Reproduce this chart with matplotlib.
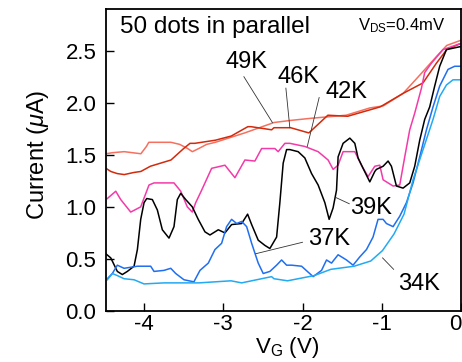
import matplotlib
matplotlib.use("Agg")
import matplotlib.pyplot as plt

plt.rcParams['font.family'] = ['Liberation Sans', 'DejaVu Sans']
plt.rcParams['mathtext.fontset'] = 'custom'
plt.rcParams['mathtext.rm'] = 'Liberation Sans'
plt.rcParams['mathtext.it'] = 'Liberation Sans:italic'

# gate voltage (V) and current (uA)
vg_49 = [-4.48, -4.40, -4.25, -4.04, -3.97, -3.94, -3.80, -3.66, -3.55, -3.45, -3.39, -3.31,
         -3.21, -3.10, -2.73, -2.36, -2.15, -1.90, -1.45, -1.15, -0.98, -0.73, -0.55, -0.29,
         -0.18, 0.0]
i_49 = [1.51, 1.52, 1.53, 1.51, 1.58, 1.62, 1.62, 1.62, 1.60, 1.56, 1.53, 1.56,
        1.60, 1.62, 1.71, 1.81, 1.83, 1.85, 1.88, 1.95, 1.97, 2.09, 2.24, 2.46,
        2.55, 2.60]

vg_46 = [-4.48, -4.42, -4.34, -4.25, -4.13, -4.04, -3.92, -3.66, -3.50, -3.42, -3.36, -3.10,
         -2.90, -2.69, -2.65, -2.39, -2.36, -2.15, -1.92, -1.68, -1.43, -1.02, -0.73, -0.48,
         -0.31, -0.18, 0.0]
i_46 = [1.37, 1.34, 1.32, 1.31, 1.33, 1.34, 1.39, 1.45, 1.56, 1.61, 1.61, 1.64,
        1.68, 1.77, 1.77, 1.74, 1.76, 1.76, 1.71, 1.88, 1.87, 1.96, 2.09, 2.19,
        2.38, 2.51, 2.57]

vg_42 = [-4.463, -4.357, -4.294, -4.168, -4.042, -3.937, -3.874, -3.622, -3.537, -3.454,
         -3.391, -3.348, -3.273, -3.147, -2.979, -2.853, -2.727, -2.601, -2.516, -2.349,
         -2.307, -2.223, -2.160, -1.971, -1.803, -1.677, -1.614, -1.551, -1.488, -1.340,
         -1.256, -1.173, -1.088, -1.025, -0.983, -0.857, -0.773, -0.710, -0.647, -0.584,
         -0.499, -0.458, -0.373, -0.227, 0.0]
i_42 = [1.08, 1.15, 1.07, 0.95, 1.00, 1.21, 1.23, 1.23, 1.15, 1.00,
        0.95, 1.04, 1.16, 1.37, 1.40, 1.28, 1.45, 1.44, 1.56, 1.56,
        1.53, 1.61, 1.61, 1.58, 1.53, 1.45, 1.36, 1.40, 1.53, 1.53,
        1.40, 1.29, 1.39, 1.40, 1.26, 1.20, 1.21, 1.48, 1.74, 1.90,
        2.14, 2.29, 2.38, 2.51, 2.57]

vg_39 = [-4.483, -4.420, -4.337, -4.274, -4.211, -4.126, -4.084, -4.042, -4.0, -3.966,
         -3.895, -3.832, -3.769, -3.685, -3.622, -3.580, -3.537, -3.474, -3.391, -3.316,
         -3.231, -3.168, -3.063, -2.979, -2.895, -2.768, -2.693, -2.642, -2.559, -2.475,
         -2.412, -2.327, -2.286, -2.244, -2.201, -2.160, -2.055, -1.971, -1.886, -1.803,
         -1.718, -1.664, -1.614, -1.571, -1.551, -1.488, -1.403, -1.340, -1.299, -1.236,
         -1.151, -1.088, -1.067, -0.983, -0.920, -0.878, -0.815, -0.731, -0.647, -0.584,
         -0.521, -0.458, -0.395, -0.332, -0.269, -0.184, 0.0]
i_39 = [0.55, 0.51, 0.38, 0.35, 0.38, 0.43, 0.59, 0.88, 1.04, 1.08,
        1.07, 0.97, 0.78, 0.70, 0.81, 1.07, 1.13, 1.07, 1.00, 0.88,
        0.76, 0.73, 0.78, 0.75, 0.83, 0.84, 0.93, 0.83, 0.68, 0.63,
        0.60, 0.71, 1.04, 1.42, 1.55, 1.55, 1.53, 1.47, 1.32, 1.21,
        1.04, 0.88, 0.99, 1.16, 1.48, 1.61, 1.66, 1.61, 1.47, 1.37,
        1.24, 1.34, 1.36, 1.39, 1.44, 1.39, 1.20, 1.18, 1.23, 1.39,
        1.64, 1.84, 1.96, 2.16, 2.35, 2.51, 2.54]

vg_37 = [-4.463, -4.400, -4.337, -4.252, -4.084, -3.916, -3.874, -3.748, -3.663, -3.600,
         -3.496, -3.370, -3.357, -3.294, -3.189, -3.105, -3.021, -2.958, -2.895, -2.831,
         -2.768, -2.705, -2.642, -2.559, -2.496, -2.412, -2.327, -2.264, -2.201, -2.138,
         -2.012, -1.866, -1.760, -1.697, -1.634, -1.551, -1.445, -1.362, -1.277, -1.193,
         -1.110, -1.047, -0.983, -0.941, -0.857, -0.773, -0.689, -0.605, -0.521, -0.436,
         -0.353, -0.269, -0.164, -0.080, 0.0]
i_37 = [0.31, 0.36, 0.44, 0.41, 0.43, 0.43, 0.38, 0.39, 0.41, 0.36,
        0.30, 0.28, 0.30, 0.39, 0.46, 0.59, 0.65, 0.81, 0.88, 0.84,
        0.86, 0.81, 0.65, 0.46, 0.36, 0.38, 0.44, 0.49, 0.44, 0.44,
        0.43, 0.33, 0.39, 0.49, 0.46, 0.54, 0.49, 0.44, 0.52, 0.59,
        0.71, 0.88, 0.88, 0.84, 0.81, 0.91, 1.04, 1.23, 1.48, 1.74,
        1.96, 2.16, 2.32, 2.35, 2.35]

vg_34 = [-4.463, -4.400, -4.337, -4.252, -4.126, -4.0, -3.748, -3.307, -2.903, -2.768,
         -2.390, -2.361, -2.189, -1.853, -1.643, -1.349, -1.139, -0.991, -0.845, -0.719,
         -0.605, -0.479, -0.353, -0.269, -0.184, -0.101, 0.0]
i_34 = [0.30, 0.36, 0.34, 0.31, 0.30, 0.26, 0.27, 0.27, 0.29, 0.27,
        0.33, 0.31, 0.29, 0.34, 0.40, 0.43, 0.48, 0.58, 0.74, 0.93,
        1.26, 1.55, 1.84, 2.06, 2.17, 2.22, 2.22]

temps = ['49K', '46K', '42K', '39K', '37K', '34K']
label_xy = [(-2.71, 2.39), (-2.05, 2.25), (-1.44, 2.10), (-1.13, 0.99), (-1.67, 0.69), (-0.53, 0.26)]
pointer_from = [(-2.74, 2.25), (-2.21, 2.14), (-1.79, 2.05), (-1.41, 1.03), (-2.00, 0.66), (-0.85, 0.40)]
pointer_to = [(-2.38, 1.81), (-2.16, 1.76), (-1.94, 1.58), (-1.58, 1.09), (-2.59, 0.55), (-0.99, 0.51)]

fig = plt.figure(figsize=(4.62, 3.62), dpi=100)
ax = fig.add_axes([106 / 462, 51 / 362, 355 / 462, 302 / 362])

curves = [(vg_49, i_49, '#f5705f'), (vg_46, i_46, '#d22a0c'), (vg_42, i_42, '#f43aa8'),
          (vg_39, i_39, 'black'), (vg_37, i_37, '#1f6ff0'), (vg_34, i_34, '#22aaf2')]
for x, y, c in curves:
    ax.plot(x, y, color=c, lw=1.1)

for t, (tx, ty), p0, p1 in zip(temps, label_xy, pointer_from, pointer_to):
    ax.text(tx, ty, t, fontsize=17, ha='center', va='center')
    ax.plot([p0[0], p1[0]], [p0[1], p1[1]], color='#333333', lw=0.6)

ax.text(0.04, 0.94, '50 dots in parallel', transform=ax.transAxes, fontsize=17.5, va='center')
ax.text(0.71, 0.945, 'V$_\\mathrm{DS}$=0.4mV', transform=ax.transAxes, fontsize=12, va='center')

ax.set_xlim(-4.48, 0.0)
ax.set_ylim(0, 2.9)
ax.set_xticks([-4, -3, -2, -1, 0])
ax.set_xticklabels(['-4', '-3', '-2', '-1', '0'])
ax.set_yticks([0.0, 0.5, 1.0, 1.5, 2.0, 2.5])
ax.set_yticklabels(['0.0', '0.5', '1.0', '1.5', '2.0', '2.5'])
ax.tick_params(direction='in', length=6, width=1, labelsize=16)
ax.tick_params(axis='x', pad=2)
ax.tick_params(axis='y', pad=7)
ax.get_xticklabels()[-1].set_ha('right')
for s in ax.spines.values():
    s.set_linewidth(1.3)

fig.text(38 / 462, 1 - 155 / 362, 'Current ($\\mathit{\\mu}$A)', rotation=90, fontsize=17,
         ha='center', va='center')
fig.text(287 / 462, 2 / 362, 'V$_\\mathrm{G}$ (V)', fontsize=16, ha='center', va='bottom')

fig.savefig('out.png', dpi=100)
